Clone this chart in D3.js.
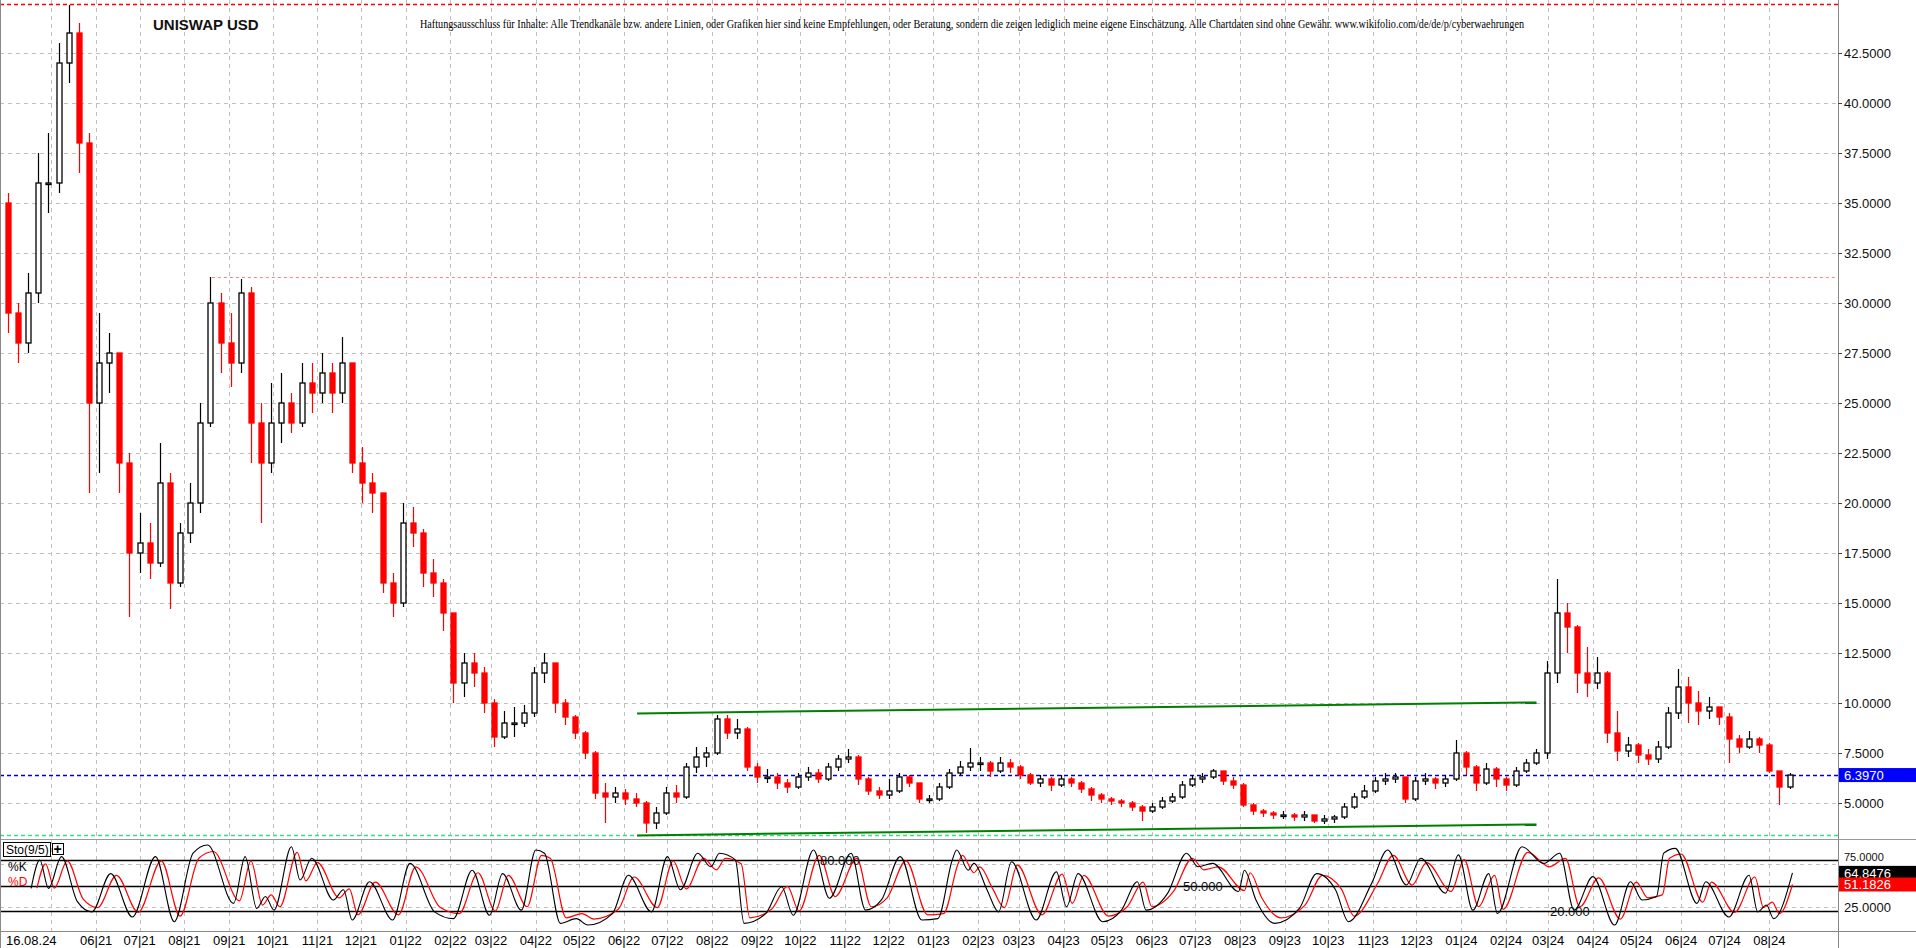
<!DOCTYPE html>
<html><head><meta charset="utf-8">
<script src="https://cdn.jsdelivr.net/npm/d3@7"></script>
<style>html,body{margin:0;padding:0;background:#fff;overflow:hidden}</style>
</head><body>
<svg id="c" width="1916" height="948"></svg>
<script>
// ---------- DATA ----------
const startDate = [2021, 3, 1];           // first weekly candle
const firstOpen = 35;
const closes = [29.5,28,30.5,36,36,42,43.5,38,25,27,27.5,22,17.5,18,17,21,16,18.5,20,24,30,28,27,30.5,24,22,24,25,24,26,25.5,26.5,25.5,27,22,21,20.5,16,15,19,18.5,16.5,16,14.5,11,12,11.5,10,8.3,9,9,9.5,11.5,12,10,9.3,8.5,7.5,5.5,5.3,5.5,5.2,5,4,4.5,5.5,5.3,6.8,7.3,7.5,9.2,8.5,8.7,6.8,6.3,6.3,6,5.8,6.3,6.5,6.2,6.8,7.2,7.3,6.2,5.6,5.4,5.6,6.3,6.0,5.2,5.2,5.8,6.5,6.8,7.0,7.0,6.6,7.0,6.8,6.4,6.0,6.2,5.9,6.2,6.0,5.7,5.4,5.2,5.1,5.0,4.8,4.6,4.8,5.1,5.3,5.9,6.2,6.3,6.6,6.1,5.9,4.9,4.6,4.5,4.4,4.4,4.3,4.4,4.1,4.2,4.3,4.8,5.3,5.6,6.1,6.2,6.3,5.2,6.1,6.2,6.0,6.2,7.5,6.8,6.0,6.7,6.2,5.9,6.6,7.0,7.5,11.5,14.5,13.8,11.5,11.0,11.5,8.5,7.6,7.9,7.4,7.2,7.8,9.5,10.8,10.0,9.6,9.8,9.3,8.2,7.8,8.2,7.9,6.6,5.8,6.397];
const highs = [35.5,30,31.5,37.5,38.5,43,44.9,44,38.5,29.5,28.5,27.5,22.5,19.5,19,23,21.5,19,21,25,31.3,30.5,29.5,31.2,30.8,25,26,26.5,25.5,27,27,27.5,27,28.3,27,22.8,21.5,20.5,16.5,20,19.8,18.7,17.2,16.2,12.8,12.5,12.5,11.8,10.2,9.6,9.8,9.9,11.8,12.5,12,10.2,9.4,8.6,7.6,6,5.8,5.7,5.5,5.1,4.8,5.8,5.9,7,7.8,7.8,9.4,9.4,9.2,8.8,7,6.7,6.5,6.2,6.5,6.8,6.7,7,7.4,7.7,7.4,6.3,5.8,6.2,6.5,6.4,6.0,5.4,6,6.7,7.1,7.75,7.3,7.1,7.3,7.2,6.9,6.5,6.4,6.3,6.4,6.3,6.1,5.8,5.5,5.3,5.2,5.1,4.9,5.0,5.3,5.5,6.1,6.4,6.5,6.7,6.6,6.3,6.0,5.0,4.7,4.6,4.6,4.5,4.6,4.4,4.4,4.4,5.0,5.5,5.9,6.3,6.5,6.5,6.3,6.3,6.5,6.3,6.4,8.15,7.6,6.9,7.0,6.8,6.3,6.8,7.2,7.7,12.1,16.2,15,13.9,12.8,12.3,11.6,9.6,8.3,8.0,7.7,8.1,9.8,11.7,11.3,10.6,10.3,9.8,9.5,8.4,8.6,8.3,8.0,6.6,6.5];
const lows = [28.5,27,27.5,30,34.5,35.5,41,36.5,20.5,21.5,25.5,20.5,14.3,16.5,16.2,16.8,14.7,15.8,18,19.5,23.8,26.5,25.8,26.5,22,19,21.5,23,23.5,23.8,24.5,25,24.5,25,21.5,20,19.5,15.5,14.3,14.8,17.8,15.8,15.3,13.6,10,10.3,10.8,9.5,7.8,8.2,8.3,8.8,9.3,11,9.5,8.9,8.2,7.2,5.2,4,5.0,4.9,4.8,3.5,3.7,4.4,5,5.2,6.5,6.8,7.4,8.2,8.2,6.6,6,6,5.7,5.5,5.7,6.1,6,6.1,6.6,7,5.9,5.4,5.2,5.2,5.5,5.8,5.0,5.0,5.1,5.7,6.4,6.6,6.6,6.3,6.5,6.5,6.2,5.9,5.8,5.6,5.8,5.8,5.5,5.1,5.0,4.9,4.8,4.6,4.1,4.5,4.7,5.0,5.2,5.8,6.0,6.2,5.9,5.7,4.8,4.4,4.3,4.2,4.2,4.1,4.1,4.0,3.95,4.0,4.2,4.7,5.2,5.5,5.9,6.0,5.0,5.1,5.9,5.7,5.8,6.1,6.4,5.6,5.9,5.8,5.6,5.8,6.5,6.9,7.2,11,12.5,10.5,10.3,10.7,8.0,7.1,7.3,7.0,6.9,7.0,7.7,9.2,9.0,8.9,9.2,8.9,7.0,7.5,7.7,7.5,6.5,4.9,5.7];

// Stochastic (9/5): day offsets from startDate and values
const kDays = [16,22,28,37,48,58,71,86,102,115,128,138,156,164,172,178,184,196,202,210,225,232,238,250,266,278,295,308,321,333,342,355,365,371,382,393,401,418,429,445,456,465,477,486,492,503,509,524,535,543,557,568,583,593,604,617,632,643,653,656,664,668,677,685,694,711,725,732,740,757,770,781,787,802,815,823,833,851,855,863,876,893,905,918,927,943,954,967,977,994,1003,1013,1024,1030,1047,1062,1073,1083,1096,1111,1122,1130,1140,1145,1153,1168,1174,1190,1204,1210,1216,1221,1234];
const kVals = [46.6,80,46.6,84,31,19,64,13,84,7.4,88,97.6,29,84,23,37,21,95.6,56.5,82,33,45,9.4,54.5,9.4,76,19,11,68,15,64,21,91.7,88,5.5,11,3.5,17,62,19,84,45,88,72,88,80,5.5,17,48.6,15,91.7,35,88,21,33,84,9.4,11,80,91.7,68,76,45,19,78,9.4,66,25,64,7.4,21,54.5,21,41,88,72,76,43,68,33,5.5,23,64,45,7.4,52.5,91.7,50.6,82,41,86,21,64,17,95.6,76,88,21,60.4,3.5,54.5,33,37,88,93.7,29,54.5,13,62,19,27,11,64.8476];
const dDays = [20,26,32,41,52,62,75,90,106,119,132,142,160,168,176,182,188,200,206,214,229,236,242,254,270,282,299,312,325,337,346,359,369,375,386,397,405,422,433,449,460,469,481,490,496,507,513,528,539,547,561,572,587,597,608,621,636,647,657,660,668,672,681,689,698,715,729,736,744,761,774,785,791,806,819,827,837,855,859,867,880,897,909,922,931,947,958,971,981,998,1007,1017,1028,1034,1051,1066,1077,1087,1100,1115,1126,1134,1144,1149,1157,1172,1178,1194,1208,1214,1220,1225,1234];
const dVals = [47,75.5,47,79,34,24,62,18.5,79,14,82,90,32,79,27,39,25,89,55.5,77,35.5,46,15.5,54,15.5,72,24,17,65,20,62,25,85.5,82,12,17,10.5,22,60,24,79,46,82,68.5,82,75.5,12,22,49,20,85.5,37,82,25,35.5,79,15.5,17,75.5,85.5,65,72,46,24,74,15.5,63.5,29,62,14,25,54,25,43,82,68.5,72,44,65,35.5,12,27,62,46,14,52,85.5,50.5,77,43,80.5,25,62,22,89,72,82,25,59,10.5,54,35.5,39,82,87,30.5,54,18.5,60,24,30.5,17,51.1826];

const priceTicks = [5,7.5,10,12.5,15,17.5,20,22.5,25,27.5,30,32.5,35,37.5,40,42.5];
const stochLevels = [80,50,20];
const stochGrid = [25,75];
const lastPrice = 6.397, lastK = 64.8476, lastD = 51.1826;
const athLevel = 44.95, resistLevel = 31.3, resistStartDay = 141, supportLevel = 3.38;
const channelUpper = [[435,9.48],[1057,10.03]];
const channelLower = [[435,3.38],[1057,3.93]];
const title = "UNISWAP USD";
const disclaimer = "Haftungsausschluss für Inhalte: Alle Trendkanäle bzw. andere Linien, oder Grafiken hier sind keine Empfehlungen, oder Beratung, sondern die zeigen lediglich meine eigene Einschätzung. Alle Chartdaten sind ohne Gewähr. www.wikifolio.com/de/de/p/cyberwaehrungen";
const dateLabel = "16.08.24";

// ---------- DRAW ----------
const svg = d3.select('#c');
const day = d => new Date(startDate[0], startDate[1], startDate[2] + d);
const AX = 1838;
const x = d3.scaleTime().domain([day(0), day(1233)]).range([8, 1791]);
const y = d3.scaleLinear().domain([3, 45]).range([843, 3]);
const ys = d3.scaleLinear().domain([0, 100]).range([928, 843]);
const grid = '#c0c0c0';

const months = d3.timeMonth.range(new Date(2021,4,1), new Date(2024,7,2));
svg.append('g').selectAll('line').data(months).join('line')
  .attr('x1', d => Math.round(x(d))+0.5).attr('x2', d => Math.round(x(d))+0.5)
  .attr('y1', 0).attr('y2', 932).attr('stroke', grid).attr('stroke-dasharray','4,4');
svg.append('g').selectAll('line').data(priceTicks).join('line')
  .attr('x1', 0).attr('x2', AX).attr('y1', d => Math.round(y(d))+0.5).attr('y2', d => Math.round(y(d))+0.5)
  .attr('stroke', grid).attr('stroke-dasharray','4,4');
svg.append('g').selectAll('line').data(stochGrid).join('line')
  .attr('x1', 0).attr('x2', AX).attr('y1', d => Math.round(ys(d))+0.5).attr('y2', d => Math.round(ys(d))+0.5)
  .attr('stroke', grid).attr('stroke-dasharray','4,4');

const hline = (v, x1, col, dash, w) => svg.append('line').attr('x1', x1).attr('x2', AX)
  .attr('y1', Math.round(y(v))+0.5).attr('y2', Math.round(y(v))+0.5).attr('stroke', col).attr('stroke-dasharray', dash).attr('stroke-width', w||1);
hline(athLevel, 0, '#ff0000', '4,3', 1.5);
hline(resistLevel, x(day(resistStartDay)), '#ff8080', '3,3', 1);
hline(supportLevel, 0, '#33dd88', '4,3', 1.5);

const line = d3.line().x(d => x(day(d[0]))).y(d => y(d[1]));
[channelUpper, channelLower].forEach(c => svg.append('path').attr('d', line(c)).attr('stroke','#008000').attr('stroke-width',2).attr('fill','none'));

hline(lastPrice, 0, '#0000cc', '4,3', 1.5);

const candles = closes.map((c, i) => ({d: day(i*7), o: i ? closes[i-1] : firstOpen, c, h: highs[i], l: lows[i]}));
const cg = svg.append('g');
candles.forEach(k => {
  const up = k.c >= k.o, col = up ? '#000' : '#ff0000';
  const cx = Math.round(x(k.d)) + 0.5;
  cg.append('line').attr('x1', cx).attr('x2', cx).attr('y1', y(k.h)).attr('y2', y(k.l)).attr('stroke', col).attr('stroke-width', 1.2);
  const top = y(Math.max(k.o, k.c)), bot = y(Math.min(k.o, k.c));
  cg.append('rect').attr('x', cx - 2.5).attr('y', top).attr('width', 5).attr('height', Math.max(1.5, bot - top))
    .attr('fill', up ? '#fff' : '#ff0000').attr('stroke', col).attr('stroke-width', 1.3);
});

svg.append('g').selectAll('line').data(stochLevels).join('line')
  .attr('x1', 0).attr('x2', AX).attr('y1', d => Math.round(ys(d))+0.5).attr('y2', d => Math.round(ys(d))+0.5)
  .attr('stroke', '#000').attr('stroke-width', 1.5);
const sl = (days, vals) => d3.line().curve(d3.curveMonotoneX).x((d,i) => x(day(days[i]))).y(d => ys(d))(vals);
svg.append('path').attr('d', sl(dDays, dVals)).attr('stroke', '#ff0000').attr('fill','none').attr('stroke-width',1.2);
svg.append('path').attr('d', sl(kDays, kVals)).attr('stroke', '#000').attr('fill','none').attr('stroke-width',1.1);
const fnt = 'Arial, Liberation Sans, sans-serif';
const lvlLabel = [[80, 820], [50, 1183], [20, 1550]];
lvlLabel.forEach(([v, px]) => svg.append('text').attr('x', px).attr('y', ys(v) + 5).text(v.toFixed(3))
  .attr('font-family', fnt).attr('font-size',13).attr('fill','#111'));

svg.append('line').attr('x1', AX+0.5).attr('x2', AX+0.5).attr('y1', 0).attr('y2', 948).attr('stroke', '#888');
svg.append('line').attr('x1', 0).attr('x2', 1916).attr('y1', 839.5).attr('y2', 839.5).attr('stroke', '#999');
svg.append('line').attr('x1', 0).attr('x2', 1916).attr('y1', 931.5).attr('y2', 931.5).attr('stroke', '#888');
svg.append('line').attr('x1', 0.5).attr('x2', 0.5).attr('y1', 0).attr('y2', 948).attr('stroke', '#888');

svg.append('g').selectAll('text').data(priceTicks).join('text')
  .attr('x', 1844).attr('y', d => y(d) + 5).text(d => d.toFixed(4))
  .attr('font-family', fnt).attr('font-size', 13).attr('fill', '#111');
svg.append('g').selectAll('line').data(priceTicks).join('line')
  .attr('x1', AX).attr('x2', AX+4).attr('y1', d => Math.round(y(d))+0.5).attr('y2', d => Math.round(y(d))+0.5).attr('stroke','#444');
svg.append('rect').attr('x', AX+1).attr('y', y(lastPrice) - 7).attr('width', 78).attr('height', 14).attr('fill', '#0000ff');
svg.append('text').attr('x', 1844).attr('y', y(lastPrice) + 5).text(lastPrice.toFixed(4)).attr('font-family', fnt).attr('font-size', 13).attr('fill', '#fff');

svg.append('text').attr('x', 1844).attr('y', ys(75) - 3).text((75).toFixed(4)).attr('font-family', fnt).attr('font-size', 11).attr('fill','#111');
svg.append('text').attr('x', 1844).attr('y', ys(25) + 5).text((25).toFixed(4)).attr('font-family', fnt).attr('font-size', 13).attr('fill','#111');
svg.append('rect').attr('x', AX+1).attr('y', ys(lastK) - 7).attr('width', 78).attr('height', 14).attr('fill', '#000');
svg.append('text').attr('x', 1844).attr('y', ys(lastK) + 5).text(lastK.toFixed(4)).attr('font-family', fnt).attr('font-size', 13).attr('fill', '#fff');
svg.append('rect').attr('x', AX+1).attr('y', ys(lastD) - 7).attr('width', 78).attr('height', 14).attr('fill', '#ff0000');
svg.append('text').attr('x', 1844).attr('y', ys(lastD) + 5).text(lastD.toFixed(4)).attr('font-family', fnt).attr('font-size', 13).attr('fill', '#fff');

svg.append('rect').attr('x', 3.5).attr('y', 842.5).attr('width', 47).attr('height', 14).attr('fill','#fff').attr('stroke','#000');
svg.append('text').attr('x', 6).attr('y', 854).text('Sto(9/5)').attr('font-family', fnt).attr('font-size', 12);
svg.append('rect').attr('x', 52.5).attr('y', 843.5).attr('width', 11).attr('height', 11).attr('fill','#fff').attr('stroke','#000');
svg.append('text').attr('x', 53.5).attr('y', 854).text('+').attr('font-family', fnt).attr('font-size', 14).attr('font-weight','bold');
svg.append('text').attr('x', 8).attr('y', 871).text('%K').attr('font-family', fnt).attr('font-size', 12).attr('fill','#000');
svg.append('text').attr('x', 8).attr('y', 886).text('%D').attr('font-family', fnt).attr('font-size', 12).attr('fill','#ff0000');

svg.append('text').attr('x', 6).attr('y', 945).text(dateLabel).attr('font-family', fnt).attr('font-size', 13);
svg.append('g').selectAll('text').data(months.filter(m => m >= new Date(2021,5,1))).join('text')
  .attr('x', d => x(d)).attr('y', 945).attr('text-anchor','middle')
  .text(d => d3.timeFormat('%m|%y')(d)).attr('font-family', fnt).attr('font-size', 13);

svg.append('text').attr('x', 153).attr('y', 30).text(title).attr('font-family', fnt).attr('font-size', 15).attr('font-weight','bold').attr('fill','#111');
svg.append('text').attr('x', 420).attr('y', 28).text(disclaimer).attr('font-family', 'Liberation Serif, DejaVu Serif, serif').attr('font-size', 11.5)
  .attr('textLength', 1104).attr('lengthAdjust', 'spacingAndGlyphs').attr('fill','#000');
</script>
</body></html>
